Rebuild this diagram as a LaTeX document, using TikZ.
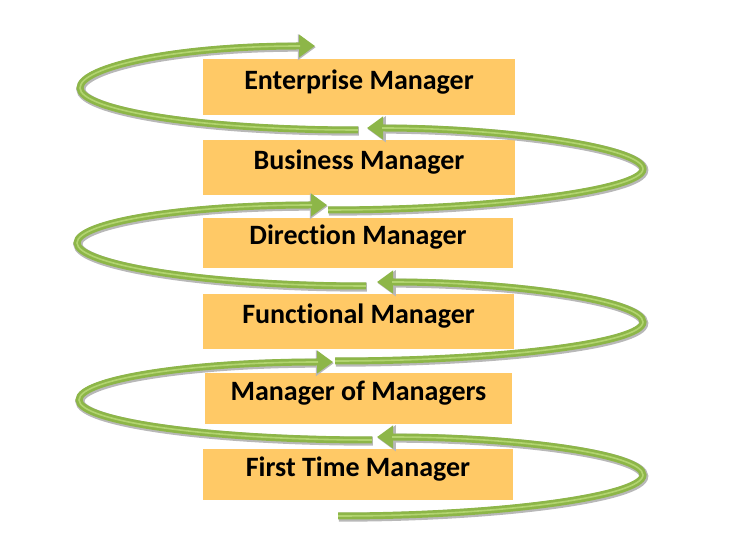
\documentclass[tikz,border=0pt]{standalone}
\usepackage{fontspec}
\setmainfont[Ligatures=NoCommon]{Carlito}
\usetikzlibrary{arrows.meta}
\definecolor{boxorange}{RGB}{255,201,102}
\definecolor{leaf}{RGB}{141,182,72}
\definecolor{leaflight}{RGB}{178,212,112}
\tikzset{
every node/.style={rectangle, fill=boxorange, inner sep=0pt, font=\bfseries\fontsize{28}{30}\selectfont, text height=18pt, text depth=14pt},
spiral/.style={line width=7pt, draw=leaf, -{Triangle[width=22pt,length=16pt]},
  preaction={draw=black!28, line width=9pt, transform canvas={shift={(0.8pt,-1.2pt)}}, -{Triangle[width=25pt,length=18pt]}},
  postaction={draw=leaflight, line width=1.6pt, -, shorten >=15pt}},
lower/.style={out distance=165pt, in distance=21pt},
upper/.style={out distance=21pt, in distance=140pt}
}

\begin{document}
\begin{tikzpicture}[x=1pt, y=1pt]
\useasboundingbox (0,0) rectangle (735,545);

\node[minimum width=312pt, minimum height=56.5pt] (1) at (359,457.75) {Enterprise Manager};
\node[minimum width=312pt, minimum height=55pt] (2) at (359,377) {Business Manager};
\node[minimum width=310pt, minimum height=50pt] (3) at (358,302) {Direction Manager};
\node[minimum width=311pt, minimum height=55pt] (4) at (358.5,223.5) {Functional Manager};
\node[minimum width=307pt, minimum height=51pt] (5) at (358.5,146.5) {Manager of Managers};
\node[minimum width=310pt, minimum height=51pt] (6) at (358,70.5) {First Time Manager};

% tails, turning points, heads
\coordinate (t1) at (358,415); \coordinate (a1) at (80,457); \coordinate (h1) at (315,499);
\coordinate (t2) at (328,335); \coordinate (a2) at (643,376); \coordinate (h2) at (367,417);
\coordinate (t3) at (366,259); \coordinate (a3) at (77,302); \coordinate (h3) at (327,340);
\coordinate (t4) at (335,184); \coordinate (a4) at (643,223); \coordinate (h4) at (377,263);
\coordinate (t5) at (372,105); \coordinate (a5) at (79,145); \coordinate (h5) at (333,183);
\coordinate (t6) at (338,29); \coordinate (a6) at (643,70); \coordinate (h6) at (377,108);

\draw[spiral] (t1) to[out=180, in=-90, lower] (a1) to[out=90, in=180, upper] (h1);
\draw[spiral] (t2) to[out=0, in=-90, lower] (a2) to[out=90, in=0, upper] (h2);
\draw[spiral] (t3) to[out=180, in=-90, lower] (a3) to[out=90, in=180, upper] (h3);
\draw[spiral] (t4) to[out=0, in=-90, lower] (a4) to[out=90, in=0, upper] (h4);
\draw[spiral] (t5) to[out=180, in=-90, lower] (a5) to[out=90, in=180, upper] (h5);
\draw[spiral] (t6) to[out=0, in=-90, lower] (a6) to[out=90, in=0, upper] (h6);
\end{tikzpicture}
\end{document}
